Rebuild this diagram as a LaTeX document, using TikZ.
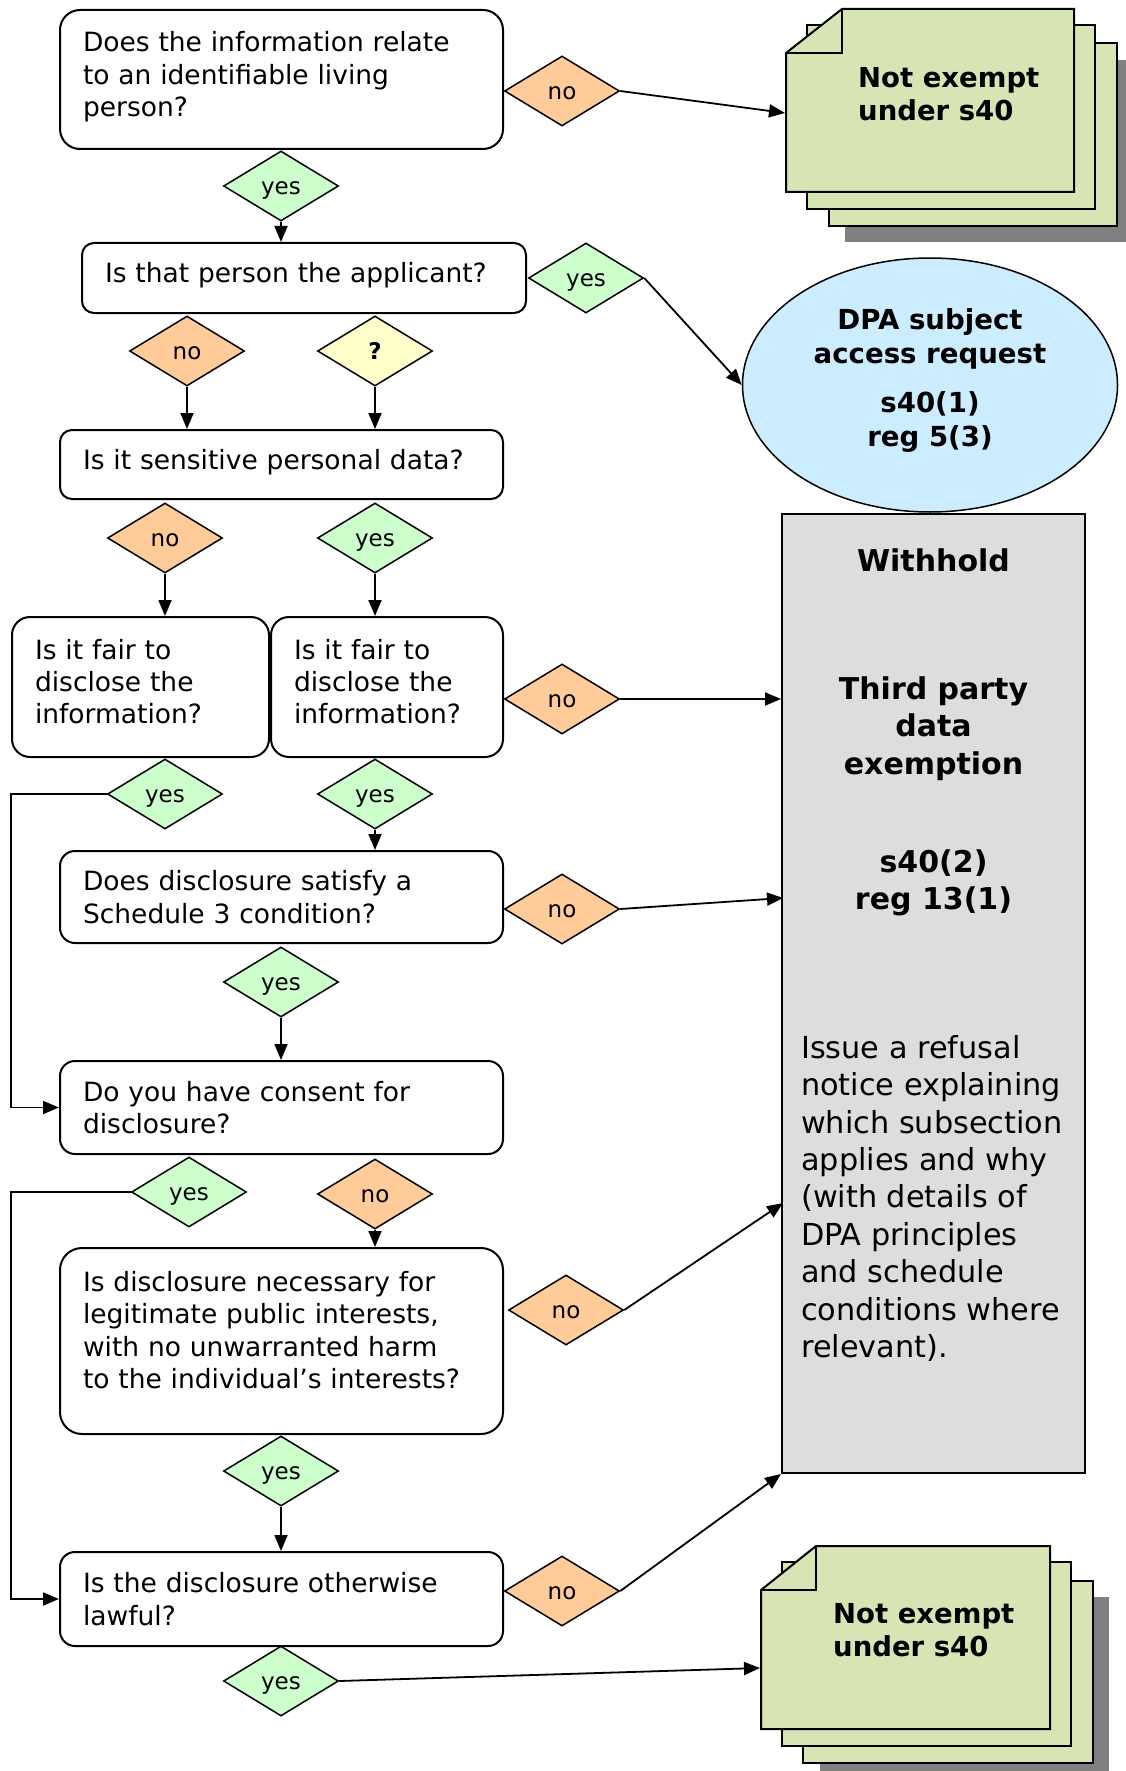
\documentclass[tikz,border=0pt]{standalone}
\usepackage{fontspec}
\setmainfont{DejaVu Sans}
\usetikzlibrary{shapes.geometric,arrows.meta}
\definecolor{nocol}{HTML}{FFCC99}
\definecolor{yescol}{HTML}{CCFFCC}
\definecolor{askcol}{HTML}{FFFFCC}
\definecolor{notecol}{HTML}{D7E4B4}
\definecolor{sarcol}{HTML}{CCECFF}
\definecolor{holdcol}{HTML}{DDDDDD}
\definecolor{shadecol}{HTML}{808080}

\begin{document}
\begin{tikzpicture}[x=1pt, y=-1pt,
  qbox/.style={draw, line width=2pt, rounded corners=15pt, fill=white, align=left,
    inner xsep=23pt, inner ysep=0pt, font=\fontsize{26.5}{32.4}\selectfont},
  dmd/.style={diamond, draw, line width=1.5pt, minimum width=115pt, minimum height=70pt,
    inner sep=0pt, text height=20pt, text depth=3pt, font=\fontsize{23}{28}\selectfont},
  dno/.style={dmd, fill=nocol},
  dyes/.style={dmd, fill=yescol},
  dask/.style={dmd, fill=askcol, font=\fontsize{23}{28}\selectfont\bfseries},
  sheet/.style={draw, line width=2pt, fill=notecol},
  notetext/.style={anchor=north west, align=left, inner sep=0pt,
    font=\fontsize{27.5}{33}\selectfont\bfseries},
  holdbold/.style={align=center, inner sep=0pt, font=\fontsize{30}{37.4}\selectfont\bfseries},
  arr/.style={line width=1.8pt, -{Triangle[length=16pt,width=13pt]}},
  link/.style={line width=1.8pt}
]
  \useasboundingbox (0,0) rectangle (1125,1771);

  %% questions
  \node[qbox, text width=397pt, minimum height=139pt, rounded corners=20pt, text depth=75.5pt] (q1) at (281.5,79.5)
    {Does the information relate\\to an identifiable living\\person?};
  \node[qbox, text width=398pt, minimum height=70pt, rounded corners=12pt, text depth=12pt] (q2) at (304,278)
    {Is that person the applicant?};
  \node[qbox, text width=397pt, minimum height=69pt, rounded corners=12pt, text depth=10pt] (q3) at (281.5,464.5)
    {Is it sensitive personal data?};
  \node[qbox, text width=211pt, minimum height=140pt, rounded corners=18pt, text depth=75.8pt] (q4a) at (140.5,687)
    {Is it fair to\\disclose the\\information?};
  \node[qbox, text width=186pt, minimum height=140pt, rounded corners=18pt, text depth=75.8pt] (q4b) at (387,687)
    {Is it fair to\\disclose the\\information?};
  \node[qbox, text width=397pt, minimum height=92pt] (q5) at (281.5,897)
    {Does disclosure satisfy a\\Schedule 3 condition?};
  \node[qbox, text width=397pt, minimum height=93pt] (q6) at (281.5,1107.5)
    {Do you have consent for\\disclosure?};
  \node[qbox, text width=397pt, minimum height=186pt, rounded corners=22pt, text depth=119pt] (q7) at (281.5,1341)
    {Is disclosure necessary for\\legitimate public interests,\\with no unwarranted harm\\to the individual’s interests?};
  \node[qbox, text width=397pt, minimum height=94pt] (q8) at (281.5,1599)
    {Is the disclosure otherwise\\lawful?};

  %% answers
  \node[dno]  (q1no)   at (562,91)   {no};
  \node[dyes] (q1yes)  at (281,186)  {yes};
  \node[dyes] (q2yes)  at (586,278)  {yes};
  \node[dno]  (q2no)   at (187,351)  {no};
  \node[dask] (q2ask)  at (375,351)  {?};
  \node[dno]  (q3no)   at (165,538)  {no};
  \node[dyes] (q3yes)  at (375,538)  {yes};
  \node[dno]  (q4bno)  at (562,699)  {no};
  \node[dyes] (q4ayes) at (165,794)  {yes};
  \node[dyes] (q4byes) at (375,794)  {yes};
  \node[dno]  (q5no)   at (562,909)  {no};
  \node[dyes] (q5yes)  at (281,982)  {yes};
  \node[dyes] (q6yes)  at (189,1192) {yes};
  \node[dno]  (q6no)   at (375,1194) {no};
  \node[dno]  (q7no)   at (566,1310) {no};
  \node[dyes] (q7yes)  at (281,1471) {yes};
  \node[dno]  (q8no)   at (562,1591) {no};
  \node[dyes] (q8yes)  at (281,1681) {yes};

  %% subject access request
  \node[ellipse, draw, line width=1.5pt, fill=sarcol, minimum width=375pt, minimum height=254pt,
    align=center, text depth=15.5pt, font=\fontsize{27.6}{34}\selectfont\bfseries] (sar) at (930,385)
    {DPA subject\\access request\\[15pt]s40(1)\\reg 5(3)};

  %% withhold
  \node[draw, line width=2pt, fill=holdcol, minimum width=303pt, minimum height=959pt] (wh) at (933.5,993.5) {};
  \node[holdbold] (whtitle) at (933.5,560) {Withhold};
  \node[holdbold] (whexempt) at (933.5,728.5) {Third party\\data\\exemption};
  \node[holdbold] (whreg) at (933.5,883) {s40(2)\\reg 13(1)};
  \node[anchor=north west, align=left, inner sep=0pt, font=\fontsize{30.3}{37.4}\selectfont] (whnote) at (801,1035)
    {Issue a refusal\\notice explaining\\which subsection\\applies and why\\(with details of\\DPA principles\\and schedule\\conditions where\\relevant).};

  %% not exempt, top
  \fill[shadecol] (845,60) rectangle (1133,242);
  \draw[sheet] (829,43) rectangle (1117,226);
  \draw[sheet] (807,25) rectangle (1095,209);
  \draw[sheet] (786,53) -- (842,9) -- (1074,9) -- (1074,192) -- (786,192) -- cycle;
  \draw[line width=2pt] (786,53) -- (842,53) -- (842,9);
  \node[notetext] (n1) at (858,67) {Not exempt\\under s40};
  \coordinate (n1in) at (785,113);

  %% not exempt, bottom
  \fill[shadecol] (820,1597) rectangle (1109,1780);
  \draw[sheet] (803,1581) rectangle (1093,1763);
  \draw[sheet] (782,1562) rectangle (1071,1746);
  \draw[sheet] (761,1590) -- (816,1546) -- (1050,1546) -- (1050,1729) -- (761,1729) -- cycle;
  \draw[line width=2pt] (761,1590) -- (816,1590) -- (816,1546);
  \node[notetext] (n2) at (833,1603) {Not exempt\\under s40};
  \coordinate (n2in) at (760,1668);

  \coordinate (lft) at (11,0);
  \coordinate (w5) at (783,898);
  \coordinate (w7) at (783,1203);

  %% connectors
  \draw[arr] (q1no.east) -- (n1in); % q1 -> not exempt
  \draw[arr] (q1yes.south) -- (q1yes.south |- q2.north);
  \draw[arr] (q2yes.east) -- (sar.west); % q2 -> SAR
  \draw[arr] (q2no.south) -- (q2no.south |- q3.north);
  \draw[arr] (q2ask.south) -- (q2ask.south |- q3.north);
  \draw[arr] (q3no.south) -- (q3no.south |- q4a.north);
  \draw[arr] (q3yes.south) -- (q3yes.south |- q4b.north);
  \draw[arr] (q4bno.east) -- (q4bno.east -| wh.west); % q4 -> withhold
  \draw[arr] (q4ayes.west) -- (q4ayes.west -| lft) |- (q6.west); % q4a -> q6
  \draw[arr] (q4byes.south) -- (q4byes.south |- q5.north);
  \draw[arr] (q5no.east) -- (w5); % q5 -> withhold
  \draw[arr] (q5yes.south) -- (q5yes.south |- q6.north);
  \draw[arr] (q6yes.west) -- (q6yes.west -| lft) |- (q8.west); % q6 -> q8
  \draw[arr] (q6no.south) -- (q6no.south |- q7.north);
  \draw[arr] (q7no.east) -- (w7); % q7 -> withhold
  \draw[arr] (q7yes.south) -- (q7yes.south |- q8.north);
  \draw[arr] (q8no.east) -- (wh.south west); % q8 -> withhold
  \draw[arr] (q8yes.east) -- (n2in); % q8 -> not exempt

\end{tikzpicture}
\end{document}
